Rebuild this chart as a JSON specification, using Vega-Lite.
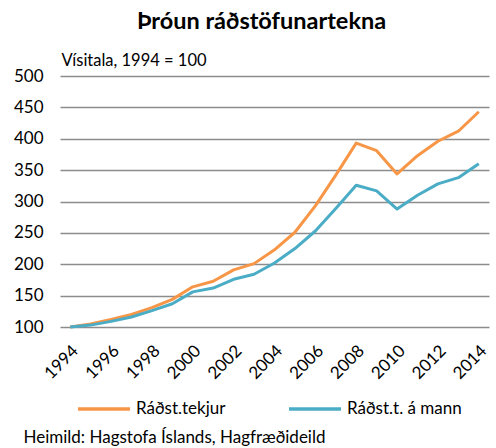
{
  "$schema": "https://vega.github.io/schema/vega-lite/v6.json",
  "width": 429,
  "height": 251,
  "autosize": {"type": "none"},
  "padding": {"left": 60, "top": 76, "right": 7, "bottom": 121},
  "background": "white",
  "title": {
    "text": "Þróun ráðstöfunartekna",
    "font": "Lato",
    "fontSize": 23.5,
    "fontWeight": "bold",
    "color": "#000000",
    "anchor": "middle",
    "frame": "group",
    "dx": -13,
    "offset": 19
  },
  "config": {
    "view": {"stroke": null},
    "font": "Lato"
  },
  "data": {
    "values": [
      {"year": 1994, "series": "Ráðst.tekjur", "value": 100},
      {"year": 1995, "series": "Ráðst.tekjur", "value": 105},
      {"year": 1996, "series": "Ráðst.tekjur", "value": 112},
      {"year": 1997, "series": "Ráðst.tekjur", "value": 120},
      {"year": 1998, "series": "Ráðst.tekjur", "value": 131},
      {"year": 1999, "series": "Ráðst.tekjur", "value": 144},
      {"year": 2000, "series": "Ráðst.tekjur", "value": 164},
      {"year": 2001, "series": "Ráðst.tekjur", "value": 173},
      {"year": 2002, "series": "Ráðst.tekjur", "value": 191},
      {"year": 2003, "series": "Ráðst.tekjur", "value": 201},
      {"year": 2004, "series": "Ráðst.tekjur", "value": 223},
      {"year": 2005, "series": "Ráðst.tekjur", "value": 251},
      {"year": 2006, "series": "Ráðst.tekjur", "value": 293},
      {"year": 2007, "series": "Ráðst.tekjur", "value": 342},
      {"year": 2008, "series": "Ráðst.tekjur", "value": 393},
      {"year": 2009, "series": "Ráðst.tekjur", "value": 381},
      {"year": 2010, "series": "Ráðst.tekjur", "value": 344},
      {"year": 2011, "series": "Ráðst.tekjur", "value": 373},
      {"year": 2012, "series": "Ráðst.tekjur", "value": 396},
      {"year": 2013, "series": "Ráðst.tekjur", "value": 412},
      {"year": 2014, "series": "Ráðst.tekjur", "value": 443},
      {"year": 1994, "series": "Ráðst.t. á mann", "value": 100},
      {"year": 1995, "series": "Ráðst.t. á mann", "value": 103},
      {"year": 1996, "series": "Ráðst.t. á mann", "value": 109},
      {"year": 1997, "series": "Ráðst.t. á mann", "value": 116},
      {"year": 1998, "series": "Ráðst.t. á mann", "value": 126},
      {"year": 1999, "series": "Ráðst.t. á mann", "value": 137},
      {"year": 2000, "series": "Ráðst.t. á mann", "value": 156},
      {"year": 2001, "series": "Ráðst.t. á mann", "value": 162},
      {"year": 2002, "series": "Ráðst.t. á mann", "value": 176},
      {"year": 2003, "series": "Ráðst.t. á mann", "value": 184},
      {"year": 2004, "series": "Ráðst.t. á mann", "value": 202},
      {"year": 2005, "series": "Ráðst.t. á mann", "value": 225},
      {"year": 2006, "series": "Ráðst.t. á mann", "value": 253},
      {"year": 2007, "series": "Ráðst.t. á mann", "value": 289},
      {"year": 2008, "series": "Ráðst.t. á mann", "value": 326},
      {"year": 2009, "series": "Ráðst.t. á mann", "value": 317},
      {"year": 2010, "series": "Ráðst.t. á mann", "value": 288},
      {"year": 2011, "series": "Ráðst.t. á mann", "value": 310},
      {"year": 2012, "series": "Ráðst.t. á mann", "value": 328},
      {"year": 2013, "series": "Ráðst.t. á mann", "value": 338},
      {"year": 2014, "series": "Ráðst.t. á mann", "value": 360}
    ]
  },
  "mark": {"type": "line", "strokeWidth": 3, "strokeJoin": "round"},
  "encoding": {
    "x": {
      "field": "year",
      "type": "quantitative",
      "scale": {"domain": [1993.5, 2014.5], "nice": false, "zero": false},
      "axis": {
        "values": [1994, 1996, 1998, 2000, 2002, 2004, 2006, 2008, 2010, 2012, 2014],
        "format": "d",
        "labelAngle": -45,
        "labelAlign": "right",
        "labelBaseline": "middle",
        "labelPadding": 21,
        "labelOffset": 5,
        "labelFontSize": 17,
        "labelColor": "#000000",
        "labelFont": "Lato",
        "labelFlush": false,
        "labelOverlap": false,
        "ticks": false,
        "domain": false,
        "grid": false,
        "title": "Heimild: Hagstofa Íslands, Hagfræðideild",
        "titleFont": "Lato",
        "titleFontSize": 17,
        "titleFontWeight": "normal",
        "titleColor": "#000000",
        "titleAlign": "left",
        "titleBaseline": "alphabetic",
        "titleAnchor": null,
        "titleX": -37,
        "titleY": 115
      }
    },
    "y": {
      "field": "value",
      "type": "quantitative",
      "scale": {"domain": [100, 500], "nice": false, "zero": false},
      "axis": {
        "values": [100, 150, 200, 250, 300, 350, 400, 450, 500],
        "labelFontSize": 17,
        "labelColor": "#000000",
        "labelFont": "Lato",
        "labelPadding": 17,
        "ticks": false,
        "domain": false,
        "grid": true,
        "gridColor": "#8c8c8c",
        "gridWidth": 1.5,
        "title": "Vísitala, 1994 = 100",
        "titleFont": "Lato",
        "titleFontSize": 16.5,
        "titleFontWeight": "normal",
        "titleColor": "#000000",
        "titleAngle": 0,
        "titleAlign": "left",
        "titleBaseline": "alphabetic",
        "titleAnchor": null,
        "titleX": 1,
        "titleY": -11
      }
    },
    "color": {
      "field": "series",
      "type": "nominal",
      "scale": {"domain": ["Ráðst.tekjur", "Ráðst.t. á mann"], "range": ["#F79646", "#4BACC6"]},
      "legend": {
        "title": null,
        "orient": "none",
        "direction": "horizontal",
        "legendX": 16,
        "legendY": 305,
        "symbolType": "stroke",
        "symbolStrokeWidth": 3.5,
        "symbolSize": 2704,
        "labelFontSize": 17,
        "labelFont": "Lato",
        "labelColor": "#000000",
        "labelOffset": 4,
        "columnPadding": 56,
        "labelLimit": 300
      }
    }
  }
}
